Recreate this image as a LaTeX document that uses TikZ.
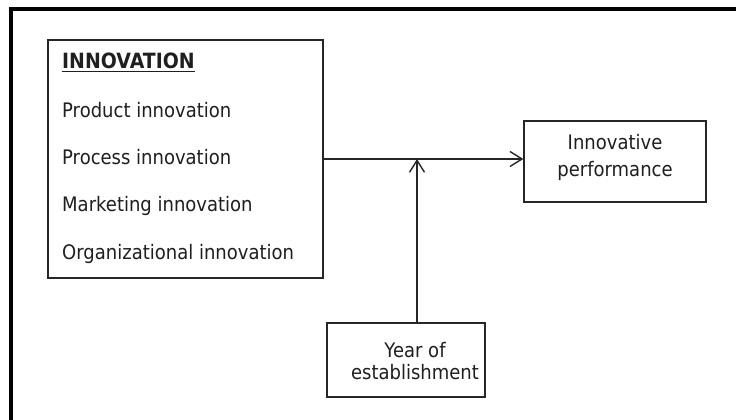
\documentclass[tikz,border=0pt]{standalone}
\usepackage{fontspec}
\setmainfont{DejaVu Sans}[FakeStretch=0.9]
\usetikzlibrary{arrows.meta}
\begin{document}
\begin{tikzpicture}[x=1pt,y=-1pt,
  box/.style={rectangle, draw=black!85, line width=1.4pt, inner sep=0pt},
  label/.style={anchor=base, inner sep=0pt, font=\fontsize{20}{24}\selectfont, text=black!88},
  item/.style={label, anchor=base west},
  link/.style={line width=1.4pt, draw=black!85,
    -{Straight Barb[length=12pt,width=15pt,line width=1.4pt]}}
]
\useasboundingbox (0,0) rectangle (736,420);
\fill[white] (0,0) rectangle (736,420);
% outer frame (left and top edges)
\draw[line width=4pt, line join=miter] (10.5,420) -- (10.5,9) -- (736,9);

% boxes
\node[box, minimum width=275pt, minimum height=238pt] (inn) at (185.5,159) {};
\node[box, minimum width=182pt, minimum height=81pt] (perf) at (615,161.5) {};
\node[box, minimum width=158pt, minimum height=74pt] (year) at (406,360) {};

% innovation list
\node[item, font=\fontsize{21}{24}\selectfont\bfseries] (head) at (62,68) {INNOVATION};
\draw[line width=1.8pt, black!88] ([yshift=-3.5pt]head.base west) -- ([yshift=-3.5pt]head.base east);
\node[item] (prod) at (62,117) {Product innovation};
\node[item] (proc) at (62,164) {Process innovation};
\node[item] (mark) at (62,211) {Marketing innovation};
\node[item] (org)  at (62,259) {Organizational innovation};

% outcome and moderator labels
\node[label] (perfa) at (615,149) {Innovative};
\node[label] (perfb) at (615,176) {performance};
\node[label] (yeara) at (415,357) {Year of};
\node[label] (yearb) at (415,379) {establishment};

% connectors
\coordinate (join) at (417,159);
\draw[link] (inn.east) -- (inn.east -| perf.west);
\draw[link] (year.north -| join) -- (join);
\end{tikzpicture}
\end{document}
